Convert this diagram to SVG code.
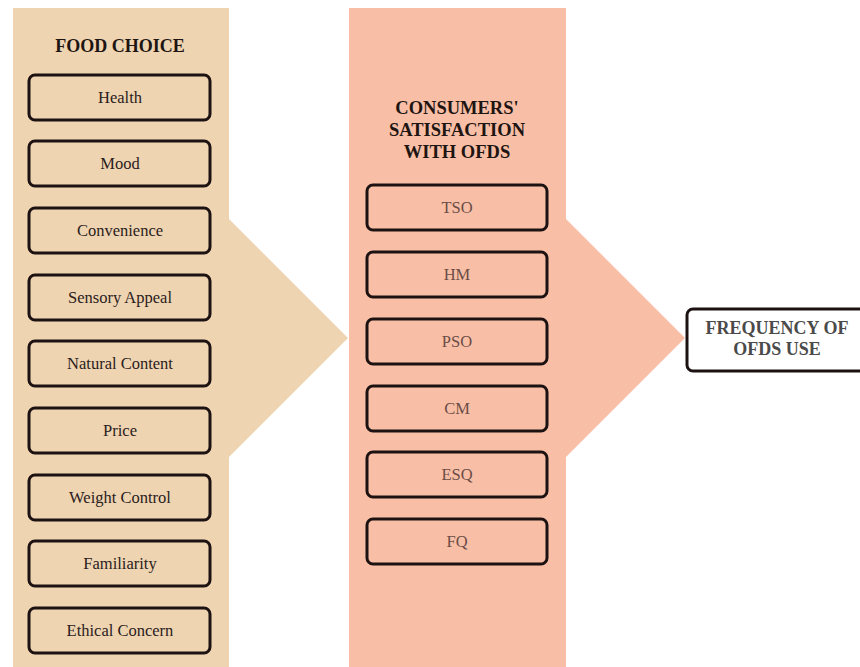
<svg xmlns="http://www.w3.org/2000/svg" width="860" height="667" viewBox="0 0 860 667">
<style>
.bg{fill:#ffffff}
.pl{fill:#EFD4B1}
.pm{fill:#F9BFA6}
.box{fill:none;stroke:#1c1212;stroke-width:3}
text{font-family:'Liberation Serif','Times New Roman','DejaVu Serif',serif}
.title{font-weight:bold;font-size:18px;fill:#1e1512;text-anchor:middle}
.mtitle{font-weight:bold;font-size:18.5px;fill:#1e1512;text-anchor:middle}
.lt{font-size:16.5px;fill:#2a211d;text-anchor:middle}
.mt{font-size:16.5px;fill:#6b4d46;text-anchor:middle}
.rt{font-weight:bold;font-size:18px;fill:#4a4a4a;text-anchor:middle}
</style>
<rect class="bg" x="0" y="0" width="860" height="667"/>
<g id="panel-food-choice">
<polygon class="pl" points="13,8 229,8 229,219 348,338 229,457 229,667 13,667"/>
<text class="title" x="120" y="52">FOOD CHOICE</text>
</g>
<g id="panel-satisfaction">
<polygon class="pm" points="349,8 566,8 566,219 685,338 566,457 566,667 349,667"/>
<text class="mtitle" x="457" y="114">CONSUMERS'</text>
<text class="mtitle" x="457" y="136">SATISFACTION</text>
<text class="mtitle" x="457" y="158">WITH OFDS</text>
</g>
<g id="n-health"><rect class="box" x="29" y="75" width="181" height="45" rx="6"/><text class="lt" x="120" y="103">Health</text></g>
<g id="n-mood"><rect class="box" x="29" y="141" width="181" height="45" rx="6"/><text class="lt" x="120" y="169">Mood</text></g>
<g id="n-convenience"><rect class="box" x="29" y="208" width="181" height="45" rx="6"/><text class="lt" x="120" y="236">Convenience</text></g>
<g id="n-sensory"><rect class="box" x="29" y="275" width="181" height="45" rx="6"/><text class="lt" x="120" y="303">Sensory Appeal</text></g>
<g id="n-natural"><rect class="box" x="29" y="341" width="181" height="45" rx="6"/><text class="lt" x="120" y="369">Natural Content</text></g>
<g id="n-price"><rect class="box" x="29" y="408" width="181" height="45" rx="6"/><text class="lt" x="120" y="436">Price</text></g>
<g id="n-weight"><rect class="box" x="29" y="475" width="181" height="45" rx="6"/><text class="lt" x="120" y="503">Weight Control</text></g>
<g id="n-familiarity"><rect class="box" x="29" y="541" width="181" height="45" rx="6"/><text class="lt" x="120" y="569">Familiarity</text></g>
<g id="n-ethical"><rect class="box" x="29" y="608" width="181" height="45" rx="6"/><text class="lt" x="120" y="636">Ethical Concern</text></g>
<g id="n-tso"><rect class="box" x="367" y="185" width="180" height="45" rx="6"/><text class="mt" x="457" y="213">TSO</text></g>
<g id="n-hm"><rect class="box" x="367" y="252" width="180" height="45" rx="6"/><text class="mt" x="457" y="280">HM</text></g>
<g id="n-pso"><rect class="box" x="367" y="319" width="180" height="45" rx="6"/><text class="mt" x="457" y="347">PSO</text></g>
<g id="n-cm"><rect class="box" x="367" y="386" width="180" height="45" rx="6"/><text class="mt" x="457" y="414">CM</text></g>
<g id="n-esq"><rect class="box" x="367" y="452" width="180" height="45" rx="6"/><text class="mt" x="457" y="480">ESQ</text></g>
<g id="n-fq"><rect class="box" x="367" y="519" width="180" height="45" rx="6"/><text class="mt" x="457" y="547">FQ</text></g>
<g id="n-frequency"><rect class="box" x="687" y="309" width="190" height="62" rx="6" fill="#ffffff"/><text class="rt" x="777" y="334">FREQUENCY OF</text><text class="rt" x="777" y="355">OFDS USE</text></g>
<g id="connectors"></g>
</svg>
